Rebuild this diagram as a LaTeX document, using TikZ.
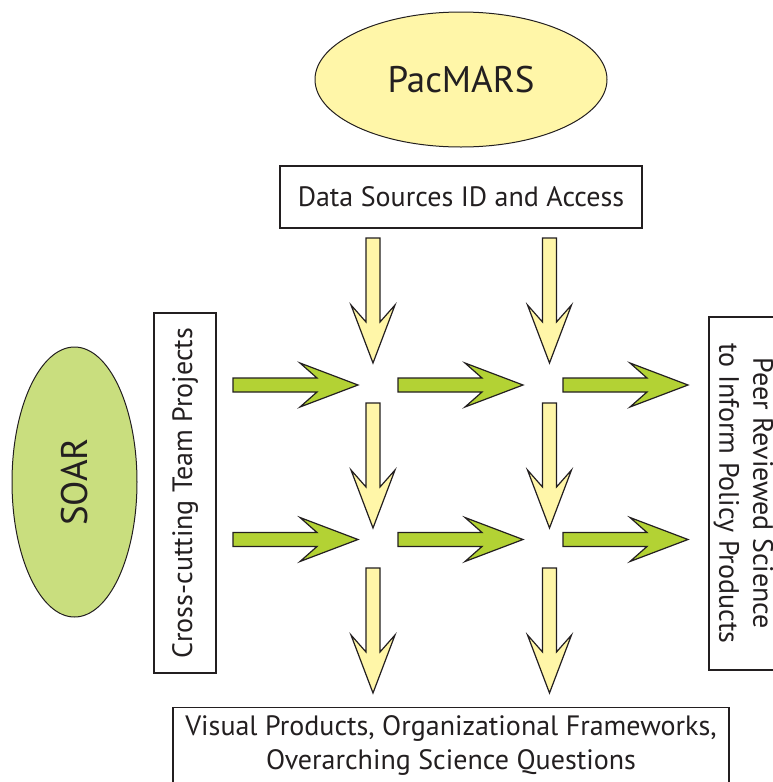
\documentclass[tikz,border=0pt]{standalone}
\usepackage{fontspec}
\setmainfont{PT Sans}
\usepackage{tikz}
\usetikzlibrary{shapes.geometric}
\definecolor{PacYellow}{HTML}{FFF6A8}
\definecolor{FlowGreen}{HTML}{B3D234}
\definecolor{SoarGreen}{HTML}{C9DE7E}
\definecolor{Ink}{HTML}{231F20}

\begin{document}
\begin{tikzpicture}[x=1pt,y=-1pt]
\tikzset{every node/.style={inner sep=0pt, text=Ink, font=\fontsize{28}{34}\selectfont}}
\tikzset{box/.style={draw=Ink, line width=1.1pt, fill=white, align=center}}
\tikzset{oval/.style={ellipse, draw=Ink, line width=1pt, font=\fontsize{37}{40}\selectfont}}
\tikzset{flow/.pic={\draw[draw=Ink, line width=1.2pt, line join=miter, fill=#1]
  (0,7) -- (84,7) -- (67,22) -- (125,0) -- (67,-22) -- (84,-7) -- (0,-7) -- cycle;}}
%\tikzset{flow head/.style={}}
\useasboundingbox (0,0) rectangle (773,782);
\clip (0,0) rectangle (773,782);

\node[oval, fill=PacYellow, minimum width=292pt, minimum height=135pt] (P) at (461,79.5) {PacMARS};
\node[box, minimum width=362pt, minimum height=62pt] (D) at (461,197) {Data Sources ID and Access};
\node[oval, fill=SoarGreen, rotate=90, minimum width=270pt, minimum height=125pt] (S) at (74.5,482) {SOAR};
\node[box, rotate=90, minimum width=360pt, minimum height=62pt] (X) at (185,493) {Cross-cutting Team Projects};
\node[box, rotate=-90, minimum width=353pt, minimum height=69pt] (R) at (743.5,493.5) {Peer Reviewed Science\\to Inform Policy Products};
\node[box, anchor=north, minimum width=556pt, minimum height=76pt] (V) at (451,707) {Visual Products, Organizational Frameworks,\\Overarching Science Questions};

% green flows, left to right
\coordinate (H11) at (233,385); \coordinate (H12) at (398,385); \coordinate (H13) at (563,385);
\coordinate (H21) at (233,539.5); \coordinate (H22) at (398,539.5); \coordinate (H23) at (563,539.5);
\pic at (H11) {flow=FlowGreen}; \pic at (H12) {flow=FlowGreen}; \pic at (H13) {flow=FlowGreen};
\pic at (H21) {flow=FlowGreen}; \pic at (H22) {flow=FlowGreen}; \pic at (H23) {flow=FlowGreen};

% yellow flows, top to bottom
\coordinate (V11) at (373,238); \coordinate (V21) at (373,403); \coordinate (V31) at (373,568);
\coordinate (V12) at (549.5,238); \coordinate (V22) at (549.5,403); \coordinate (V32) at (549.5,568);
\pic[rotate=-90] at (V11) {flow=PacYellow}; \pic[rotate=-90] at (V21) {flow=PacYellow}; \pic[rotate=-90] at (V31) {flow=PacYellow};
\pic[rotate=-90] at (V12) {flow=PacYellow}; \pic[rotate=-90] at (V22) {flow=PacYellow}; \pic[rotate=-90] at (V32) {flow=PacYellow};
\end{tikzpicture}
\end{document}
